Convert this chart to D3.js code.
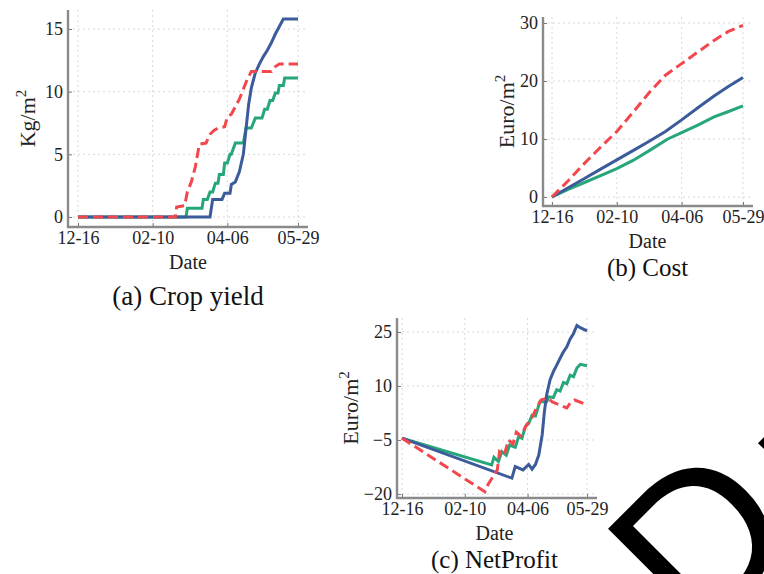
<!DOCTYPE html>
<html>
<head>
<meta charset="utf-8">
<script src="https://cdn.jsdelivr.net/npm/d3@7"></script>
<style>
  body { margin: 0; background: #fff; }
  svg { display: block; }
</style>
</head>
<body>
<div id="chart"></div>
<script>
// days counted from 12-16
const tickDays = [0, 56, 112, 165];
const tickLabels = ["12-16", "02-10", "04-06", "05-29"];

const yieldTicks = [0, 5, 10, 15];
const costTicks = [0, 10, 20, 30];
const profitTicks = [-20, -5, 10, 25];

// (a) crop yield, Kg/m2  [day, value]
const yieldBlue = [[0,0],[99,0],[101,1.4],[108,1.4],[110,1.9],[114,1.9],[115,2.6],[118,2.8],[121,3.6],[124,5.0],[126,7.0],[128,9.0],[130,10.3],[133,11.5],[136,12.2],[139,12.8],[142,13.3],[145,13.9],[148,14.6],[151,15.2],[154,15.8],[165,15.8]];
const yieldGreen = [[0,0],[81,0],[82,0.7],[93,0.7],[94,1.4],[97,1.4],[99,2.0],[101,2.0],[103,2.7],[105,2.7],[106,3.4],[109,3.4],[110,4.3],[112,4.3],[114,5.0],[115,5.0],[118,5.9],[124,5.9],[126,7.1],[130,7.1],[133,7.9],[138,7.9],[140,8.6],[142,8.6],[144,9.3],[146,9.3],[148,9.9],[150,9.9],[151,10.5],[154,10.5],[155,11.1],[165,11.1]];
const yieldRed = [[0,0],[73,0],[74,0.8],[80,0.9],[82,2.0],[85,2.8],[88,4.0],[91,5.8],[96,5.9],[99,6.6],[102,6.9],[105,7.1],[110,7.2],[112,8.0],[115,8.2],[118,8.8],[121,9.4],[124,10.2],[127,11.0],[130,11.6],[145,11.6],[148,12.0],[151,12.2],[165,12.2]];

// (b) cost, Euro/m2
const costBlue = [[0,0],[14,1.6],[28,3.2],[42,4.8],[56,6.4],[70,8.0],[84,9.6],[98,11.3],[112,13.3],[126,15.4],[140,17.4],[152,19.0],[165,20.6]];
const costGreen = [[0,0],[14,1.3],[28,2.5],[42,3.7],[56,4.9],[70,6.3],[84,8.0],[100,10.0],[112,11.1],[126,12.4],[140,13.8],[152,14.7],[165,15.7]];
const costRed = [[0,0],[14,2.8],[28,5.8],[42,8.6],[56,11.3],[70,14.6],[84,18.0],[98,21.0],[112,23.0],[126,25.0],[140,27.0],[152,28.5],[165,29.6]];

// (c) net profit, Euro/m2
const profitBlue = [[0,-4.5],[98,-15.6],[101,-12.4],[108,-13.3],[113,-11.8],[116,-13.1],[119,-11.8],[122,-9.2],[125,-3.6],[127,2.9],[129,7.5],[132,11.7],[135,14.0],[138,15.8],[141,17.7],[144,19.5],[147,20.9],[150,23.1],[153,24.6],[156,26.8],[159,26.2],[165,25.3]];
const profitGreen = [[0,-4.5],[80,-11.9],[82,-9.8],[86,-11.0],[89,-8.2],[93,-9.2],[96,-6.4],[101,-7.0],[104,-4.1],[107,-4.5],[110,-1.3],[113,-0.4],[116,1.9],[119,1.7],[123,5.6],[129,5.6],[131,7.0],[135,6.8],[138,9.0],[141,8.6],[144,11.0],[147,10.6],[150,13.0],[153,12.6],[156,15.0],[159,16.0],[165,15.6]];
const profitRed = [[0,-4.5],[74,-19.4],[77,-17.2],[85,-13.3],[87,-8.3],[91,-9.4],[95,-5.0],[99,-6.1],[102,-2.8],[106,-3.9],[111,-0.8],[115,0.6],[120,3.9],[124,6.1],[130,6.7],[134,5.6],[141,4.7],[147,3.9],[150,5.3],[154,6.1],[163,5.0]];

const W = 764, H = 574;
const blue = "#3b5b9b", green = "#27a67a", red = "#f2474c";
const serif = "'Liberation Serif', 'Times New Roman', serif";

const svg = d3.select("#chart").append("svg")
  .attr("width", W)
  .attr("height", H);

function fmt(d) { return d < 0 ? "\u2212" + Math.abs(d) : String(d); }

function panel(o) {
  const g = svg.append("g");
  const x = d3.scaleLinear().domain([0, 165]).range(o.xr);
  const y = d3.scaleLinear().domain(o.yd).range(o.yr);

  // dotted grid
  g.append("g").selectAll("line").data(tickDays).join("line")
    .attr("x1", d => x(d)).attr("x2", d => x(d))
    .attr("y1", o.top).attr("y2", o.bottom)
    .attr("stroke", "#d4d4d4").attr("stroke-width", 0.9)
    .attr("stroke-dasharray", "2,3");
  g.append("g").selectAll("line").data(o.ticks).join("line")
    .attr("x1", o.left).attr("x2", o.right)
    .attr("y1", d => y(d)).attr("y2", d => y(d))
    .attr("stroke", "#d4d4d4").attr("stroke-width", 0.9)
    .attr("stroke-dasharray", "2,3");

  const line = d3.line().x(d => x(d[0])).y(d => y(d[1]));
  g.append("path").datum(o.green).attr("d", line)
    .attr("fill", "none").attr("stroke", green).attr("stroke-width", 3);
  g.append("path").datum(o.blue).attr("d", line)
    .attr("fill", "none").attr("stroke", blue).attr("stroke-width", 3);
  g.append("path").datum(o.red).attr("d", line)
    .attr("fill", "none").attr("stroke", red).attr("stroke-width", 3)
    .attr("stroke-dasharray", "10,5");

  // axes
  const xAxis = g.append("g")
    .attr("transform", `translate(0,${o.bottom})`)
    .call(d3.axisBottom(x).tickValues(tickDays)
      .tickFormat((d, i) => tickLabels[i])
      .tickSizeInner(-4).tickSizeOuter(0).tickPadding(3));
  const yAxis = g.append("g")
    .attr("transform", `translate(${o.left},0)`)
    .call(d3.axisLeft(y).tickValues(o.ticks).tickFormat(fmt)
      .tickSizeInner(-4).tickSizeOuter(0).tickPadding(5));
  [xAxis, yAxis].forEach(a => {
    a.select(".domain").remove();
    a.selectAll(".tick line").attr("stroke", "#777").attr("stroke-width", 1);
    a.selectAll(".tick text").attr("font-family", serif).attr("font-size", 18).attr("fill", "#222");
  });
  xAxis.selectAll(".tick text").attr("dy", "0.8em");

  // spines
  g.append("line").attr("x1", o.left).attr("x2", o.left)
    .attr("y1", o.top).attr("y2", o.bottom + 1.2)
    .attr("stroke", "#8a8a8a").attr("stroke-width", 2.4);
  g.append("line").attr("x1", o.left).attr("x2", o.right)
    .attr("y1", o.bottom).attr("y2", o.bottom)
    .attr("stroke", "#8a8a8a").attr("stroke-width", 2.4);

  // labels
  const cx = (o.xr[0] + o.xr[1]) / 2;
  g.append("text").attr("x", cx).attr("y", o.bottom + 42)
    .attr("text-anchor", "middle").attr("font-family", serif)
    .attr("font-size", 20).attr("fill", "#222").text("Date");
  g.append("text").attr("x", cx).attr("y", o.bottom + o.capGap)
    .attr("text-anchor", "middle").attr("font-family", serif)
    .attr("font-size", o.capSize).attr("fill", "#111").text(o.caption);

  const yl = g.append("text")
    .attr("transform", `translate(${o.ylx},${(o.top + o.bottom) / 2}) rotate(-90)`)
    .attr("text-anchor", "middle").attr("font-family", serif)
    .attr("font-size", 22).attr("fill", "#222");
  yl.append("tspan").text(o.unit + "/m");
  yl.append("tspan").attr("font-size", 15).attr("dy", -9).text("2");
}

panel({
  xr: [78, 298], yd: [0, 15], yr: [217, 29], ticks: yieldTicks,
  left: 68, right: 308, top: 10, bottom: 227,
  blue: yieldBlue, green: yieldGreen, red: yieldRed,
  unit: "Kg", ylx: 35, caption: "(a) Crop yield", capGap: 78, capSize: 27
});
panel({
  xr: [552, 743], yd: [0, 30], yr: [197, 23], ticks: costTicks,
  left: 543, right: 753, top: 17, bottom: 206,
  blue: costBlue, green: costGreen, red: costRed,
  unit: "Euro", ylx: 514, caption: "(b) Cost", capGap: 70, capSize: 25
});
panel({
  xr: [402, 587], yd: [-20, 25], yr: [494, 332], ticks: profitTicks,
  left: 397, right: 597, top: 318, bottom: 498,
  blue: profitBlue, green: profitGreen, red: profitRed,
  unit: "Euro", ylx: 358, caption: "(c) NetProfit", capGap: 70, capSize: 25
});

// big rotated glyph in the lower right corner
const wm = svg.append("text")
  .attr("transform", "translate(698,643) rotate(-45)")
  .attr("font-family", "'Liberation Sans', Arial, sans-serif")
  .attr("font-size", 210)
  .attr("fill", "#000");
wm.append("tspan").text("D");
wm.append("tspan").attr("dx", 18).attr("dy", 12).text("r");
</script>
</body>
</html>
